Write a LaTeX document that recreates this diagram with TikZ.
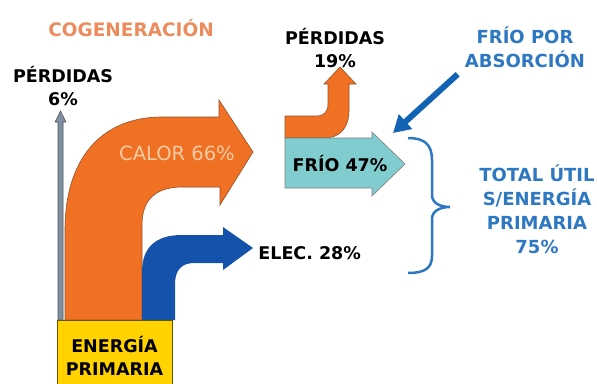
\documentclass[tikz,border=0pt]{standalone}
\usepackage{fontspec}
\setmainfont{DejaVu Sans}
\usetikzlibrary{arrows.meta}
\definecolor{calororange}{RGB}{240,112,36}
\definecolor{flowedge}{RGB}{150,80,40}
\definecolor{elecblue}{RGB}{20,82,172}
\definecolor{friocyan}{RGB}{128,204,206}
\definecolor{primyellow}{RGB}{255,210,0}
\definecolor{lossgray}{RGB}{128,144,160}
\definecolor{textblue}{RGB}{46,120,194}
\definecolor{titleorange}{RGB}{236,140,92}
\definecolor{calortext}{RGB}{246,204,164}
\begin{document}
\begin{tikzpicture}[x=1pt, y=-1pt, >={Triangle[length=17pt, width=19pt]}, thick,
  lbl/.style={font=\bfseries\fontsize{17.5}{23}\selectfont, align=center, inner sep=1pt},
  bluelbl/.style={lbl, text=textblue, font=\bfseries\fontsize{18}{24}\selectfont},
  flow/.style={draw=flowedge, line width=0.6pt}]
\useasboundingbox (0,0) rectangle (597,383);
\node[lbl, text=titleorange, font=\bfseries\fontsize{18.5}{23}\selectfont] (title) at (131,28) {COGENERACIÓN};
\node[lbl] (loss6) at (63,86) {PÉRDIDAS\\6\%};
\node[lbl] (loss19) at (335,48) {PÉRDIDAS\\19\%};
\node[bluelbl] (absor) at (525,47) {FRÍO POR\\ABSORCIÓN};
\node[bluelbl] (total) at (537,209) {TOTAL ÚTIL\\S/ENERGÍA\\PRIMARIA\\75\%};
\fill[lossgray, draw=lossgray!60!black, line width=0.6pt] (58,320) -- (58,122) -- (55,122) -- (60.5,111) -- (66,122) -- (63,122) -- (63,320) -- cycle;
\fill[calororange, flow] (65,320) -- (65,230) .. controls (65,160) and (100,118) .. (160,117) -- (219,117) -- (219,100) -- (253,152) -- (220,205) -- (220,187) -- (180,187) .. controls (155,188) and (142,200) .. (142,225) -- (142,320) -- cycle;
\fill[elecblue] (142,320) -- (142,272) .. controls (142,248) and (155,235) .. (182,235) -- (223,235) -- (223,227) -- (253,248) -- (223,270) -- (223,263) -- (194,263) .. controls (182,263) and (175,270) .. (175,284) -- (175,320) -- cycle;
\fill[calororange, flow] (285,116) -- (316,116) .. controls (324,116) and (328,112) .. (328,104) -- (328,84) -- (324,84) -- (340,67) -- (356,84) -- (349,84) -- (349,110) .. controls (349,128) and (340,138) .. (324,138) -- (285,138) -- cycle;
\fill[friocyan, draw=gray, line width=0.6pt] (285,138) -- (372,138) -- (372,132) -- (405,164) -- (372,196) -- (372,188) -- (285,188) -- cycle;
\node[lbl, text=calortext, font=\fontsize{19.5}{22}\selectfont] (calor) at (177,153) {CALOR 66\%};
\node[lbl] (frio) at (340,164) {FRÍO 47\%};
\node[lbl, anchor=west] (elec) at (257,253) {ELEC. 28\%};
\node[lbl, draw=primyellow!40!black, fill=primyellow, line width=0.6pt, minimum width=115pt, minimum height=72pt] (prim) at (114.5,356) {ENERGÍA\\PRIMARIA};
\coordinate (friotip) at (393,133);
\draw[->, elecblue!90!cyan, line width=6pt, shorten <=8pt] (absor.south west) -- (friotip);
\draw[textblue, line width=2.5pt] (408,138) .. controls (425,138) and (432,145) .. (432,160) -- (432,195) .. controls (432,203) and (440,207) .. (450,207) .. controls (440,207) and (432,211) .. (432,219) -- (432,256) .. controls (432,268) and (425,273) .. (408,273);
\end{tikzpicture}
\end{document}
